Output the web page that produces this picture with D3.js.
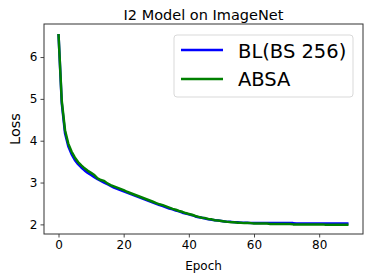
<!DOCTYPE html>
<html>
<head>
<meta charset="utf-8">
<script src="https://cdn.jsdelivr.net/npm/d3@7"></script>
<style>
    body { margin: 0; background: #fff; }
    text { font-family: 'DejaVu Sans', sans-serif; fill: #000; }
</style>
</head>
<body>
<script>
// =======================DATA================================
const epochs = d3.range(0, 90)

const blLoss = [
    6.55, 4.90, 4.18, 3.87, 3.68, 3.54, 3.44, 3.36, 3.29, 3.23,
    3.18, 3.13, 3.08, 3.04, 3.00, 2.96, 2.92, 2.88, 2.85, 2.82,
    2.79, 2.76, 2.73, 2.70, 2.67, 2.64, 2.61, 2.58, 2.55, 2.52,
    2.49, 2.46, 2.44, 2.41, 2.38, 2.36, 2.33, 2.31, 2.28, 2.26,
    2.24, 2.22, 2.19, 2.17, 2.16, 2.14, 2.12, 2.11, 2.10, 2.09,
    2.08, 2.07, 2.06, 2.06, 2.05, 2.05, 2.04, 2.04, 2.04, 2.03,
    2.03, 2.03, 2.03, 2.03, 2.03, 2.03, 2.03, 2.03, 2.03, 2.03,
    2.03, 2.03, 2.03, 2.02, 2.02, 2.02, 2.02, 2.02, 2.02, 2.02,
    2.02, 2.02, 2.02, 2.02, 2.02, 2.02, 2.02, 2.02, 2.02, 2.02
]

const absaLoss = [
    6.55, 4.95, 4.25, 3.93, 3.74, 3.60, 3.49, 3.41, 3.34, 3.28,
    3.23, 3.18, 3.10, 3.06, 3.04, 2.98, 2.94, 2.91, 2.88, 2.85,
    2.82, 2.78, 2.75, 2.72, 2.69, 2.66, 2.63, 2.60, 2.57, 2.54,
    2.51, 2.48, 2.46, 2.43, 2.40, 2.37, 2.35, 2.32, 2.30, 2.27,
    2.25, 2.23, 2.20, 2.18, 2.16, 2.15, 2.13, 2.12, 2.10, 2.09,
    2.08, 2.07, 2.06, 2.05, 2.05, 2.04, 2.04, 2.03, 2.03, 2.03,
    2.02, 2.02, 2.02, 2.02, 2.02, 2.01, 2.01, 2.01, 2.01, 2.01,
    2.01, 2.01, 2.00, 2.00, 2.00, 2.00, 2.00, 2.00, 2.00, 2.00,
    2.00, 2.00, 1.99, 1.99, 1.99, 1.99, 1.99, 1.99, 1.99, 1.99
]

const seriesNames = ['BL(BS 256)', 'ABSA']
const seriesColors = ['#0000ff', '#008000']
const xTicks = [0, 20, 40, 60, 80]
const yTicks = [2, 3, 4, 5, 6]

// =======================LAYOUT================================
const margin = { top: 24, right: 11, bottom: 46, left: 44 },
    width = 374 - margin.left - margin.right,
    height = 280 - margin.top - margin.bottom

const svg = d3.select('body').append('svg')
    .attr('width', 374)
    .attr('height', 280)

const g = svg.append('g')
    .attr('transform', 'translate(' + margin.left + ',' + margin.top + ')')

const x = d3.scaleLinear()
    .domain([-4.45, 93.45])
    .range([0, width])

const y = d3.scaleLinear()
    .domain([1.77, 6.79])
    .range([height, 0])

// axes
const xAxis = g.append('g')
    .attr('transform', 'translate(0,' + height + ')')
    .call(d3.axisBottom(x).tickValues(xTicks).tickFormat(d3.format('d')).tickSize(3.5).tickPadding(3))
const yAxis = g.append('g')
    .call(d3.axisLeft(y).tickValues(yTicks).tickFormat(d3.format('d')).tickSize(3.5).tickPadding(3))

;[xAxis, yAxis].forEach((a) => {
    a.select('.domain').remove()
    a.selectAll('.tick line').attr('stroke', '#333').attr('stroke-width', 0.9)
    a.selectAll('.tick text')
        .attr('font-size', 12)
        .attr('fill', '#000')
})

// lines
const line = d3.line()
    .x((d, i) => x(epochs[i]))
    .y((d) => y(d))

;[blLoss, absaLoss].forEach((data, i) => {
    g.append('path')
        .datum(data)
        .attr('fill', 'none')
        .attr('stroke', seriesColors[i])
        .attr('stroke-width', 2.5)
        .attr('stroke-linejoin', 'round')
        .attr('d', line)
})

// frame
g.append('rect')
    .attr('width', width)
    .attr('height', height)
    .attr('fill', 'none')
    .attr('stroke', '#333')
    .attr('stroke-width', 1)

// titles
svg.append('text')
    .attr('x', margin.left + width / 2)
    .attr('y', 19.5)
    .attr('text-anchor', 'middle')
    .attr('font-size', 14.5)
    .text('I2 Model on ImageNet')

svg.append('text')
    .attr('x', margin.left + width / 2)
    .attr('y', 269.5)
    .attr('text-anchor', 'middle')
    .attr('font-size', 12)
    .text('Epoch')

svg.append('text')
    .attr('transform', 'translate(19.5,' + (margin.top + height / 2) + ') rotate(-90)')
    .attr('text-anchor', 'middle')
    .attr('font-size', 14.5)
    .text('Loss')

// legend
const legend = svg.append('g')
    .attr('class', 'legend')
    .attr('transform', 'translate(174,35)')

legend.append('rect')
    .attr('width', 179)
    .attr('height', 62)
    .attr('rx', 3)
    .attr('fill', '#fff')
    .attr('fill-opacity', 0.8)
    .attr('stroke', '#d9d9d9')

seriesNames.forEach((name, i) => {
    legend.append('line')
        .attr('x1', 7).attr('x2', 49)
        .attr('y1', 15 + i * 29).attr('y2', 15 + i * 29)
        .attr('stroke', seriesColors[i])
        .attr('stroke-width', 2.5)
    legend.append('text')
        .attr('x', 64)
        .attr('y', 22.5 + i * 28)
        .attr('font-size', 19.5)
        .text(name)
})
</script>
</body>
</html>
